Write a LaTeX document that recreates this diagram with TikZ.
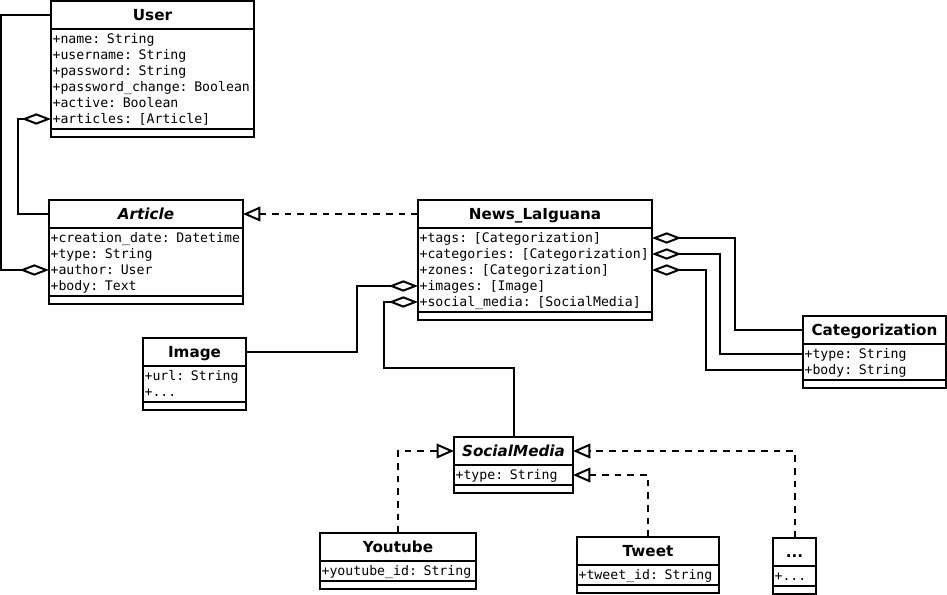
\documentclass[tikz,border=0pt]{standalone}
\usepackage{fontspec}
\usepackage{tikz}
\usetikzlibrary{arrows.meta,calc}
\newfontfamily\umlsans{DejaVu Sans}
\newfontfamily\umlmono{DejaVu Sans Mono}

% class box: name, x, y, width, title, attributes
\newcommand{\umlclass}[6]{%
  \node[classtitle, minimum width=#4*0.75pt] (#1) at (#2,#3) {#5};
  \node[classattr, text width=#4*0.75pt-2.4pt] (#1-attr) at (#1.south west) {#6};
  \node[classops, minimum width=#4*0.75pt] (#1-ops) at (#1-attr.south west) {};
}

\begin{document}
\begin{tikzpicture}[x=0.75pt, y=-0.75pt,
    classtitle/.style={draw, line width=1.5pt, anchor=north west, inner sep=0pt, outer sep=0pt,
      minimum height=21pt, text height=8pt, text depth=0pt,
      font={\umlsans\bfseries\fontsize{11.4}{13}\selectfont}},
    classattr/.style={draw, line width=1.5pt, anchor=north west, inner xsep=1.2pt, inner ysep=1.5pt,
      outer sep=0pt, align=left, font={\umlmono\fontsize{9.9}{12}\selectfont},
      execute at begin node={\rule{0pt}{9.2pt}}, execute at end node={\rule[-2.8pt]{0pt}{2.8pt}}},
    classops/.style={draw, line width=1.5pt, anchor=north west, inner sep=0pt, outer sep=0pt,
      minimum height=6.3pt},
    aggregation/.style={line width=1.5pt, -{Diamond[open, length=22pt, width=8.5pt]}},
    realization/.style={line width=1.5pt, dash pattern=on 5pt off 4.5pt,
      -{Triangle[open, length=13pt, width=11pt]}}]
    \useasboundingbox (0,0) rectangle (947,595);
    % Classes
    \umlclass{user}{51}{1}{203}{User}{+name: String\\+username: String\\+password: String\\+password\_change: Boolean\\+active: Boolean\\+articles: [Article]}
    \umlclass{article}{49}{200}{194}{\itshape Article}{+creation\_date: Datetime\\+type: String\\+author: User\\+body: Text}
    \umlclass{news}{418}{200}{234}{News\_LaIguana}{+tags: [Categorization]\\+categories: [Categorization]\\+zones: [Categorization]\\+images: [Image]\\+social\_media: [SocialMedia]}
    \umlclass{cat}{803}{316}{143}{Categorization}{+type: String\\+body: String}
    \umlclass{image}{143}{338}{103}{Image}{+url: String\\+...}
    \umlclass{social}{454}{437}{119}{\itshape SocialMedia}{+type: String}
    \umlclass{youtube}{320}{533}{156}{Youtube}{+youtube\_id: String}
    \umlclass{tweet}{577}{537}{142}{Tweet}{+tweet\_id: String}
    \umlclass{dots}{773}{538}{43}{...}{+...}
    % Def coords on attribute rows
    \coordinate (user-articles) at ([yshift=-67.5pt]user-attr.north west);
    \coordinate (article-author) at ([yshift=-31.5pt]article-attr.north west);
    \coordinate (news-tags) at ([yshift=-7.5pt]news-attr.north east);
    \coordinate (news-categories) at ([yshift=-19.5pt]news-attr.north east);
    \coordinate (news-zones) at ([yshift=-31.5pt]news-attr.north east);
    \coordinate (news-images) at ([yshift=-43.5pt]news-attr.north west);
    \coordinate (news-socialmedia) at ([yshift=-55.5pt]news-attr.north west);
    \coordinate (cat-type) at ([yshift=-7.5pt]cat-attr.north west);
    \coordinate (cat-body) at ([yshift=-19.5pt]cat-attr.north west);
    \coordinate (social-type) at ([yshift=-7.5pt]social-attr.north east);
    % Draw aggregations
    \draw[aggregation] (user.west) -- ++(-50,0) |- (article-author);
    \draw[aggregation] (article.west) -- ++(-31,0) |- (user-articles);
    \draw[aggregation] (cat.west) -- ++(-68,0) |- (news-tags);
    \draw[aggregation] (cat-type) -- ++(-83,0) |- (news-categories);
    \draw[aggregation] (cat-body) -- ++(-97,0) |- (news-zones);
    \draw[aggregation] (image.east) -- ++(111,0) |- (news-images);
    \draw[aggregation] (social.north) -- ++(0,-69) -- ++(-130,0) |- (news-socialmedia);
    % Draw realizations
    \draw[realization] (news.west) -- (article.east);
    \draw[realization] (youtube.north) |- (social.west);
    \draw[realization] (tweet.north) |- (social-type);
    \draw[realization] (dots.north) |- (social.east);
\end{tikzpicture}
\end{document}
